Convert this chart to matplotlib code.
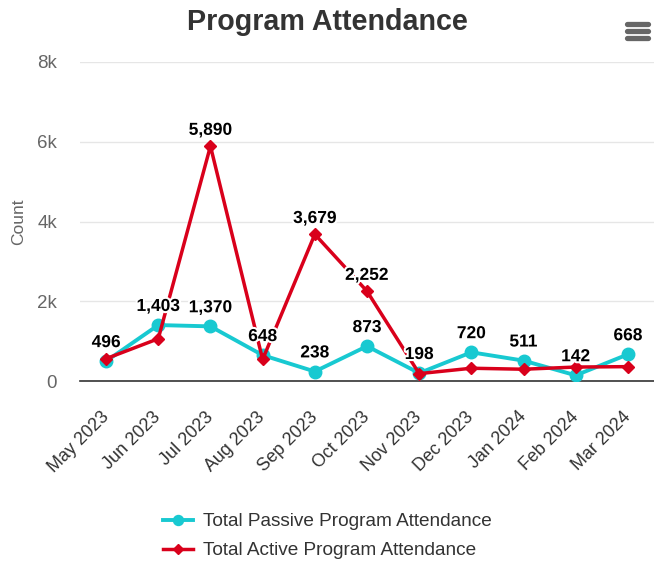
import matplotlib
matplotlib.use("Agg")
import matplotlib.pyplot as plt
import matplotlib.patheffects as pe
from matplotlib.lines import Line2D
from matplotlib.ticker import FuncFormatter

plt.rcParams['font.family'] = ['Liberation Sans', 'DejaVu Sans']

months = ["May 2023", "Jun 2023", "Jul 2023", "Aug 2023", "Sep 2023", "Oct 2023",
          "Nov 2023", "Dec 2023", "Jan 2024", "Feb 2024", "Mar 2024"]
passive = [496, 1403, 1370, 648, 238, 873, 198, 720, 511, 142, 668]
active = [560, 1060, 5890, 540, 3679, 2252, 185, 320, 295, 350, 360]
# Highcharts hid the active labels that overlapped the passive ones
active_label_shown = [False, False, True, False, True, True, False, False, False, False, False]

cyan = "#18c9d1"
red = "#d9001b"

fig = plt.figure(figsize=(6.54, 5.63), dpi=100)
ax = fig.add_axes([80 / 654, 1 - 381 / 563, 574 / 654, 319 / 563])

x = range(len(months))
ax.plot(x, passive, color=cyan, lw=2.8, marker="o", ms=9, zorder=3,
        label="Total Passive Program Attendance")
ax.plot(x, active, color=red, lw=2.5, marker="D", ms=6.5, zorder=4,
        label="Total Active Program Attendance")

outline = [pe.withStroke(linewidth=3, foreground="white")]
for i, v in enumerate(passive):
    ax.annotate(f"{v:,}", (i, v), xytext=(0, 8), textcoords="offset points",
                ha="center", va="bottom", fontsize=12.5, fontweight="bold",
                color="black", path_effects=outline, zorder=6)
for i, v in enumerate(active):
    if active_label_shown[i]:
        ax.annotate(f"{v:,}", (i, v), xytext=(0, 6), textcoords="offset points",
                    ha="center", va="bottom", fontsize=12.5, fontweight="bold",
                    color="black", path_effects=outline, zorder=6)

ax.set_xlim(-0.5, len(months) - 0.5)
ax.set_ylim(0, 8000)
ax.set_yticks([0, 2000, 4000, 6000, 8000])
ax.yaxis.set_major_formatter(FuncFormatter(lambda v, p: "0" if v == 0 else f"{int(v / 1000)}k"))
ax.set_xticks(list(x))
ax.set_xticklabels(months, rotation=45, ha="right", va="center", rotation_mode="anchor",
                   fontsize=12.9, color="#333333")
ax.tick_params(axis="y", length=0, labelsize=13.5, labelcolor="#666666", pad=16.5)
ax.tick_params(axis="x", length=0, pad=24)
ax.grid(axis="y", color="#e6e6e6", lw=1)
ax.set_axisbelow(True)
for s in ["top", "right", "left"]:
    ax.spines[s].set_visible(False)
ax.spines["bottom"].set_color("#333333")
ax.spines["bottom"].set_linewidth(1.2)
ax.set_ylabel("Count", fontsize=12.5, color="#666666", labelpad=8)

fig.text(327 / 654, 1 - 22 / 563, "Program Attendance", ha="center", va="center",
         fontsize=20.6, fontweight="bold", color="#333333")

# menu icon
for yy in [24, 31, 38]:
    fig.add_artist(Line2D([627 / 654, 648 / 654], [1 - yy / 563] * 2, color="#666666",
                          lw=3.8, solid_capstyle="round"))

leg = fig.legend(loc="upper center", bbox_to_anchor=(0.5, 1 - 496 / 563), frameon=False,
                 fontsize=13.7, handlelength=1.6, handletextpad=0.5, labelspacing=0.6,
                 markerscale=0.8)
for t in leg.get_texts():
    t.set_color("#333333")

fig.savefig("out.png", dpi=100)
